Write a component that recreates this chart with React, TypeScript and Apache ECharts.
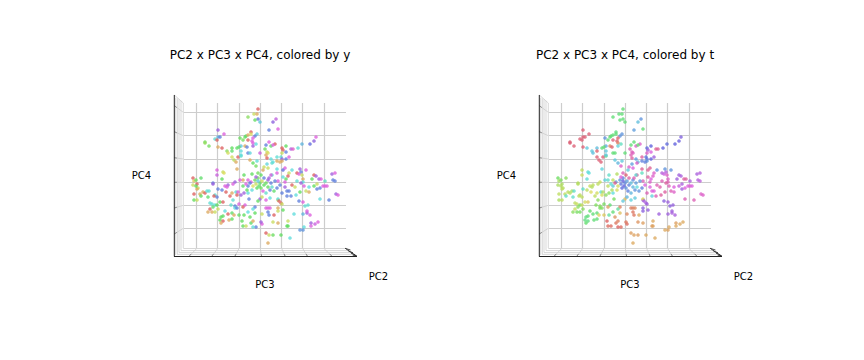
import React, { useEffect, useRef } from "react";
import * as echarts from "echarts";

// Each row: PC3 score, PC4 score, hue for y, hue for t.
const upperLeft = [
[-17,58,100,130],[-47,45,270,350],[-41,41,300,350],[-47,38,200,350],[-45,38,225,350],[-50,36,175,350],[-48,35,0,350],[-60,33,110,350],[-60,32,95,350],[-56,29,110,350],[-47,28,35,350],[-43,27,0,190],[-33,27,120,195],[-33,24,125,355],[-38,24,100,190],[-37,22,65,195],[-33,18,65,350],[-31,15,80,350],[-29,13,35,350],[-27,18,0,350],[-24,19,170,140],[-25,37,115,215],[-20,38,115,130],[-19,39,125,130],[-22,35,110,130],[-17,40,35,130],[-17,35,0,350],[-24,29,190,205],[-20,29,35,20],[-18,28,225,355],[-28,27,125,130],[-26,28,125,130],[-24,24,180,190],[-17,22,225,130],[-24,20,180,190],
];
const upperMiddle = [
[-7,66,0,130],[-11,61,70,130],[-8,61,35,130],[-7,56,230,130],[-5,53,190,130],[-10,55,120,130],[11,56,285,215],[8,53,260,195],[4,45,225,210],[13,46,300,130],[-14,43,0,135],[-14,41,60,130],[-8,41,190,215],[-10,39,225,215],[-12,37,300,355],[-13,34,300,355],[-12,32,300,15],[-9,31,180,165],[-12,29,270,185],[4,33,300,130],[1,30,225,130],[6,29,125,310],[10,31,0,310],[8,30,300,125],[0,26,115,320],[2,23,70,320],[3,22,60,315],[1,20,35,320],[-5,22,290,130],[-15,22,185,130],[2,17,0,330],[6,16,180,210],[12,18,175,330],[16,18,175,230],[21,16,225,240],[17,16,265,230],[17,27,0,235],[21,29,120,240],[18,25,0,270],[21,23,225,300],[17,22,70,310],[26,26,280,335],[28,26,310,335],[24,18,300,270],[33,27,175,240],[37,31,200,235],[45,31,235,240],[49,34,260,245],[51,38,300,255],[12,14,35,225],[17,14,35,215],[15,13,35,225],[8,13,180,195],[7,12,175,310],[2,11,185,210],[-1,8,70,310],[-2,5,35,190],[-8,14,175,190],[-12,12,120,200],[-9,9,110,310],[-15,15,35,190],
];
const centerRight = [
[12,6,180,335],[20,7,300,335],[18,5,235,335],[27,5,180,215],[35,6,270,215],[41,5,300,215],[32,2,0,280],[36,3,225,280],[34,1,300,290],[24,2,70,310],[-7,2,110,320],[-4,0,120,350],[7,0,175,330],[12,2,300,165],[23,-1,0,310],[18,-2,180,330],[21,-4,120,300],[37,0,70,310],[38,-4,35,310],[47,-4,120,270],[49,0,0,270],[51,-1,270,275],[54,-4,270,330],[56,-4,300,330],[60,-6,165,275],[67,1,270,275],[70,2,300,280],[68,-5,225,280],[70,-6,225,285],[52,-9,70,275],
[38,-7,180,320],[32,-6,175,320],[36,-8,270,330],[39,-11,300,320],[41,-16,70,320],[44,-17,35,310],[35,-17,120,330],[31,-20,180,330],[26,-21,225,320],[22,-21,225,185],[24,-16,225,300],[22,-16,225,300],[17,-18,225,320],[20,-12,270,300],[15,-10,225,300],[13,-6,300,320],[20,-7,300,310],[10,-6,225,215],[6,-8,225,210],[3,-5,270,215],[6,0,300,175],[27,-10,0,320],[30,-12,70,325],[52,-14,225,270],[55,-13,225,300],[58,-11,300,300],[60,-11,300,305],[62,-11,300,300],[44,-12,180,300],[49,-11,120,290],[55,-24,180,320],[64,-25,225,320],[71,-19,270,310],[73,-20,300,310],[34,-26,225,260],[38,-27,300,270],[40,-31,175,260],[43,-30,175,265],[13,-25,70,275],[16,-28,0,275],
];
const lowerRight = [
[29,-39,180,270],[38,-39,200,270],[42,-38,270,275],[42,-36,300,270],[45,-40,300,275],[46,-48,270,30],[46,-51,300,35],[50,-49,290,35],[53,-47,300,35],[39,-52,180,35],[38,-55,215,32],[35,-55,215,35],[25,-63,180,35],[16,-60,120,35],[8,-60,115,30],[4,-60,70,32],[1,-58,0,30],[3,-68,35,35],[22,-51,120,30],[23,-51,120,32],[23,-46,70,35],[13,-48,35,30],[8,-47,70,25],[-3,-49,300,5],[-4,-47,270,10],[-9,-52,225,5],[-12,-52,180,0],[-14,-48,125,10],[-12,-46,35,15],[-15,-42,120,25],[-10,-38,120,45],[-3,-39,70,20],[1,-33,300,15],[3,-33,300,15],[5,-33,300,20],[3,-37,225,10],[4,-40,225,10],[9,-40,0,35],[13,-33,35,260],[13,-36,70,260],[17,-29,70,270],[18,-35,120,265],[-10,-32,225,15],[-12,-34,180,150],[-5,-24,270,45],[13,-24,180,60],[14,-26,0,275],
];
const lowerLeft = [
[-71,-19,0,75],[-71,-25,120,85],[-68,-25,70,75],[-68,-9,0,85],[-67,-13,70,80],[-68,-14,35,75],[-65,-19,35,75],[-62,-17,35,75],[-60,-18,0,80],[-58,-16,175,85],[-56,-16,175,170],[-57,-22,125,170],[-64,-21,120,170],[-50,-20,175,75],[-48,-22,225,75],[-45,-27,120,65],[-42,-27,0,50],[-55,-28,175,75],[-53,-29,175,70],[-50,-30,175,110],[-48,-30,120,70],[-52,-32,125,100],[-55,-34,0,70],[-53,-37,35,110],[-57,-37,35,100],[-50,-37,70,110],[-47,-34,70,100],[-40,-36,180,125],[-37,-39,0,130],[-42,-41,120,130],[-44,-42,120,135],[-33,-38,125,130],[-31,-40,35,55],[-45,-45,120,135],[-42,-46,0,135],[-36,-45,35,130],[-33,-44,120,130],[-44,-48,35,125],[-26,-40,120,50],[-21,-40,120,150],[-17,-37,180,130],[-23,-46,120,0],[-22,-51,120,5],[-19,-51,70,5],
];
const middleBand = [
[-72,-3,0,115],[-71,-6,50,85],[-64,-3,125,100],[-69,-5,115,105],[-72,-10,70,85],[-69,-11,120,80],[-52,-8,225,80],[-52,-9,270,80],[-48,5,300,75],[-48,0,290,70],[-42,3,70,175],[-41,2,60,180],[-43,-4,120,175],[-51,-21,0,75],[-47,-14,225,170],[-43,-15,225,75],[-40,-11,300,70],[-37,-10,270,75],[-38,-12,300,80],[-32,-9,300,75],[-30,-7,270,70],[-39,-17,0,60],[-33,-18,35,65],[-35,-21,0,75],[-29,-17,175,175],[-27,-17,300,80],[-24,-20,270,100],[-28,-20,0,65],[-32,-25,175,100],[-34,-30,170,105],[-30,-31,225,100],[-26,-29,300,110],[-20,-30,300,130],[-22,-32,0,30],[-30,-33,180,110],[-28,-33,225,105],[-17,-18,180,180],[-21,-18,270,100],[-21,0,120,170],[-28,6,35,185],[-17,-5,300,75],[-22,-5,35,170],[-14,-7,300,210],[3,7,70,300],
];
const centerCluster = [
[-10,-5,115,215],[-7,-3,110,225],[-5,-8,125,220],[-3,-6,70,210],[-1,-10,120,225],[-6,-11,125,240],[-9,-9,70,230],[-12,-11,60,65],[-8,-13,120,235],[-4,-13,115,215],[1,-8,115,195],[3,-12,120,200],[7,-12,170,180],[5,-15,225,215],[-2,-16,300,225],[1,-18,170,200],[9,-16,125,215],[12,-13,225,225],[-13,-15,180,65],[-7,-6,190,240],[-1,-3,225,330],[-9,-2,270,300],[4,-3,270,320],[-13,1,120,80],[-17,-11,225,190],[-19,-9,300,175],[-15,-8,225,340],[-22,-11,125,75],[-18,-15,120,85],[-25,-5,300,185],[-3,-22,70,200],[-7,-26,120,190],[5,-23,180,190],[1,-25,300,185],[-16,-24,225,110],
];
const points = [...upperLeft, ...upperMiddle, ...centerRight, ...lowerRight, ...lowerLeft, ...middleBand, ...centerCluster];

const titles = ["PC2 x PC3 x PC4, colored by y", "PC2 x PC3 x PC4, colored by t"];
const gridPC3 = [-68.3, -47.3, -26, -4.7, 16.7, 37.7, 59];
const gridPC4 = [62.7, 39.3, 16, -7.3, -30, -53.3];

const PANEL_STEP = 365;
const GRAY = "#cdcdcd";
const DARK = "#222222";

function ln(dx: number, x1: number, y1: number, x2: number, y2: number, stroke: string, lineWidth = 0.8) {
  return { type: "line", silent: true, z: 1, shape: { x1: x1 + dx, y1, x2: x2 + dx, y2 }, style: { stroke, lineWidth } };
}

function panelFrame(dx: number) {
  const out: any[] = [];
  // back wall, left side
  [[175.7, 97.7, 255], [177.3, 98.4, 254], [179, 99.3, 252.5], [181, 100.8, 250.5], [183.3, 103, 248]].forEach(([x, t, b]) =>
    out.push(ln(dx, x, t, x, b, GRAY)));
  [[174.3, 105.7, 112.3], [174.3, 131.7, 135.7], [174.3, 157.7, 159], [174.3, 182.3, 182.3], [174.3, 208, 205.3], [174.3, 234, 228.3]].forEach(([x, a, b]) => {
    out.push(ln(dx, x, a, 183.3, b, GRAY));
    out.push(ln(dx, x, a, x + 2.5, a + (b - a) * 0.28, "#777777"));
  });
  out.push(ln(dx, 174.3, 95, 183.3, 103, GRAY));
  // floor
  [[248.5, 183.3, 345.7], [250.6, 181, 349], [252.6, 179, 352], [254.4, 177, 355]].forEach(([y, a, b]) =>
    out.push(ln(dx, a, y, b, y, GRAY)));
  [[196.7, 189.3], [217.7, 212], [239, 235], [260.3, 261.5], [281.7, 285], [302.7, 307.3], [324, 331.7]].forEach(([a, b]) => {
    out.push(ln(dx, a, 248.5, b, 256, GRAY));
    out.push(ln(dx, b + (a - b) * 0.25, 254, b, 256, "#777777"));
  });
  // spines and the PC2 ticks
  out.push(ln(dx, 174.3, 95, 174.3, 256.5, DARK, 1));
  out.push(ln(dx, 174, 256.5, 357, 256.5, DARK, 1));
  out.push(ln(dx, 345.5, 248.5, 357, 256.5, DARK, 0.8));
  [[345, 248.3, 350.5, 250], [348.3, 251, 353, 252.7], [351, 253.2, 355.5, 255], [352.7, 255.2, 357, 256]].forEach(([a, b, c, d]) =>
    out.push(ln(dx, a, b, c, d, DARK, 0.8)));
  out.push({ type: "text", silent: true, x: 378.5 + dx, y: 276.5, style: { text: "PC2", fill: "#000", font: '10px "DejaVu Sans"', textAlign: "center", textVerticalAlign: "middle" } });
  return out;
}

function series(panel: number, hueIndex: number) {
  return {
    type: "scatter",
    xAxisIndex: panel,
    yAxisIndex: panel,
    clip: false,
    symbolSize: 3.6,
    z: 3,
    silent: true,
    data: points.map((p) => [p[0], p[1], p[hueIndex]]),
    itemStyle: {
      color: (params: any) => `hsl(${params.value[2]}, 65%, 62%)`,
      opacity: 0.78,
    },
    markLine: {
      silent: true,
      symbol: "none",
      animation: false,
      z: 1,
      label: { show: false },
      lineStyle: { color: GRAY, width: 1.2, type: "solid" },
      data: [...gridPC3.map((v) => ({ xAxis: v })), ...gridPC4.map((v) => ({ yAxis: v }))],
    },
  };
}

export default function App() {
  const ref = useRef<HTMLDivElement>(null);
  useEffect(() => {
    const chart = echarts.init(ref.current!, null, { renderer: "svg" });
    const panels = [0, 1];
    chart.setOption({
      animation: false,
      backgroundColor: "#ffffff",
      textStyle: { fontFamily: '"DejaVu Sans"' },
      title: panels.map((i) => ({
        text: titles[i],
        left: 255 + i * PANEL_STEP,
        top: 44,
        textAlign: "center",
        textStyle: { fontSize: 12, fontWeight: "normal", color: "#000", fontFamily: '"DejaVu Sans"' },
      })),
      grid: panels.map((i) => ({ left: 184 + i * PANEL_STEP, top: 103, width: 162, height: 145 })),
      xAxis: panels.map((i) => ({
        gridIndex: i,
        type: "value",
        min: -81,
        max: 81,
        name: "PC3",
        nameLocation: "middle",
        nameGap: 31,
        nameTextStyle: { fontSize: 10, color: "#000", fontFamily: '"DejaVu Sans"' },
        axisLine: { show: false },
        axisTick: { show: false },
        axisLabel: { show: false },
        splitLine: { show: false },
      })),
      yAxis: panels.map((i) => ({
        gridIndex: i,
        type: "value",
        min: -73,
        max: 72,
        name: "PC4",
        nameLocation: "middle",
        nameRotate: 0,
        nameGap: 33,
        nameTextStyle: { fontSize: 10, color: "#000", fontFamily: '"DejaVu Sans"' },
        axisLine: { show: false },
        axisTick: { show: false },
        axisLabel: { show: false },
        splitLine: { show: false },
      })),
      graphic: { elements: [...panelFrame(0), ...panelFrame(PANEL_STEP)] },
      series: [series(0, 2), series(1, 3)],
    });
    return () => chart.dispose();
  }, []);
  return <div ref={ref} style={{ position: "absolute", left: 0, top: 0, width: 864, height: 360 }} />;
}
